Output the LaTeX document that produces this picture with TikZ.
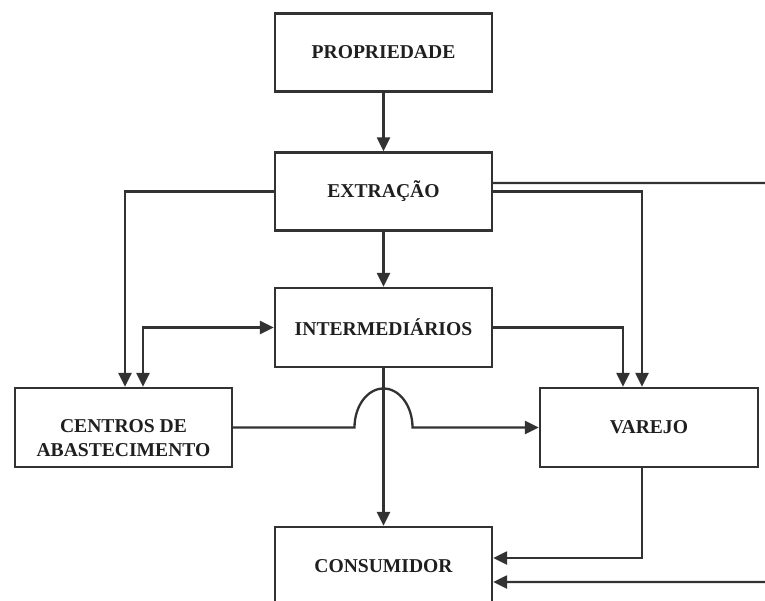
\documentclass[tikz,border=0pt]{standalone}
\usepackage{fontspec}
\setmainfont{Liberation Serif}
\usetikzlibrary{arrows.meta}
\begin{document}
\begin{tikzpicture}[x=1bp,y=-1bp,
  box/.style={draw=linecol, line width=2.3bp, fill=white, minimum width=217bp,
    minimum height=78bp, inner sep=0pt, align=center,
    font=\fontsize{19.6bp}{24bp}\selectfont\bfseries, text=black!88},
  conn/.style={draw=linecol, line width=2.3bp},
  arr/.style={conn, -{Triangle[length=14bp,width=13bp]}},
  arrtwo/.style={conn, {Triangle[length=14bp,width=13bp]}-{Triangle[length=14bp,width=13bp]}}
]
\definecolor{linecol}{RGB}{50,50,50}
\useasboundingbox (0,0) rectangle (765,601);
\clip (0,0) rectangle (765,601);
\fill[white] (0,0) rectangle (765,601);

\node[box] (prop) at (383.5,52.5) {PROPRIEDADE};
\node[box] (ext) at (383.5,191.5) {EXTRAÇÃO};
\node[box, minimum height=79bp] (inter) at (383.5,327.5) {INTERMEDIÁRIOS};
\node[box, minimum height=79bp] (cent) at (123.5,427.5)
  {\raisebox{-17bp}[0pt][0pt]{\begin{tabular}{@{}c@{}}CENTROS DE\\ABASTECIMENTO\end{tabular}}};
\node[box, minimum height=79bp, minimum width=218bp] (var) at (649,427.5) {VAREJO};
\node[box] (cons) at (383.5,566) {CONSUMIDOR};

\coordinate (rtop) at (765,183);
\coordinate (rbot) at (765,582);

\draw[arr] (prop) -- (ext);
\draw[arr] (ext) -- (inter);
\draw[arr] (inter) -- (cons);

\draw[arr] (ext.west) -| ([xshift=1.5bp]cent.north);
\draw[arrtwo] ([xshift=19.5bp]cent.north) |- (inter.west);

\draw[conn] ([yshift=8.5bp]ext.east) -- (rtop);
\draw[arr] (ext.east) -| ([xshift=-7bp]var.north);
\draw[arr] (inter.east) -| ([xshift=-26bp]var.north);

\draw[arr] (cent.east) -- (354.5,427.5)
  arc[start angle=180, end angle=0, x radius=29bp, y radius=39bp]
  -- (var.west);

\draw[arr] ([xshift=-7bp]var.south) |- ([yshift=8bp]cons.east);
\draw[arr] (rbot) -- ([yshift=-16bp]cons.east);
\end{tikzpicture}
\end{document}
